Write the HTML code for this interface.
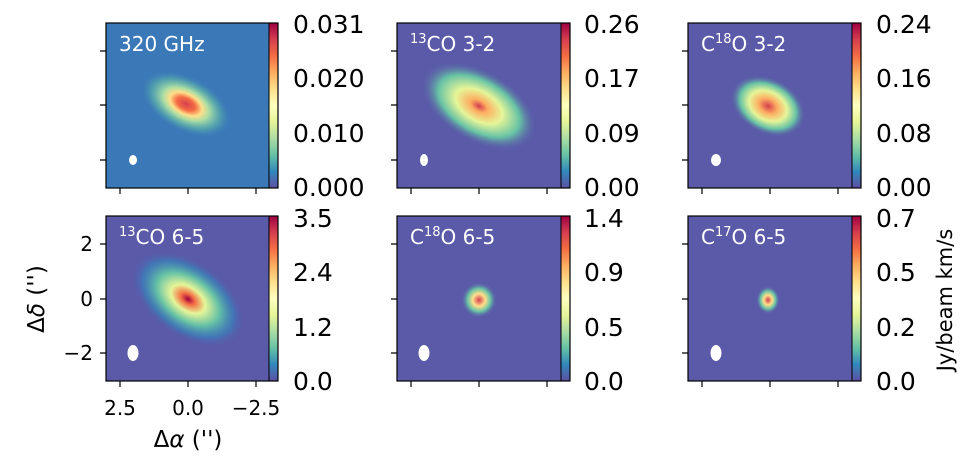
<!DOCTYPE html>
<html><head><meta charset="utf-8"><style>
body{margin:0;background:#fff;width:966px;height:465px;overflow:hidden}
text{font-family:"DejaVu Sans","Liberation Sans",sans-serif}
</style></head><body>
<svg width="966" height="465" viewBox="0 0 966 465" xmlns="http://www.w3.org/2000/svg">
<defs>
<linearGradient id="cb" x1="0" y1="1" x2="0" y2="0">
<stop offset="0" stop-color="#5e4fa2"/><stop offset="0.1" stop-color="#3288bd"/><stop offset="0.2" stop-color="#66c2a5"/><stop offset="0.3" stop-color="#abdda4"/><stop offset="0.4" stop-color="#e6f598"/><stop offset="0.5" stop-color="#ffffbf"/><stop offset="0.6" stop-color="#fee08b"/><stop offset="0.7" stop-color="#fdae61"/><stop offset="0.8" stop-color="#f46d43"/><stop offset="0.9" stop-color="#d53e4f"/><stop offset="1" stop-color="#9e0142"/>
</linearGradient>
<radialGradient id="g1"><stop offset="0" stop-color="#d53e4f"/><stop offset="0.2" stop-color="#f46d43"/><stop offset="0.35" stop-color="#fee08b"/><stop offset="0.5" stop-color="#abdda4"/><stop offset="0.75" stop-color="#66c2a5" stop-opacity="0.5"/><stop offset="1" stop-color="#3a78b8" stop-opacity="0"/></radialGradient>
<radialGradient id="g2"><stop offset="0" stop-color="#d53e4f"/><stop offset="0.15" stop-color="#fdae61"/><stop offset="0.4" stop-color="#e6f598"/><stop offset="0.7" stop-color="#66c2a5"/><stop offset="1" stop-color="#5a5aa8" stop-opacity="0"/></radialGradient>
<radialGradient id="g3"><stop offset="0" stop-color="#d53e4f"/><stop offset="0.25" stop-color="#fdae61"/><stop offset="0.5" stop-color="#e6f598"/><stop offset="0.75" stop-color="#66c2a5"/><stop offset="1" stop-color="#5a5aa8" stop-opacity="0"/></radialGradient>
<radialGradient id="g4"><stop offset="0" stop-color="#9e0142"/><stop offset="0.12" stop-color="#f46d43"/><stop offset="0.3" stop-color="#e6f598"/><stop offset="0.55" stop-color="#66c2a5"/><stop offset="0.8" stop-color="#3288bd" stop-opacity="0.6"/><stop offset="1" stop-color="#5a5aa8" stop-opacity="0"/></radialGradient>
<radialGradient id="g5"><stop offset="0" stop-color="#d53e4f"/><stop offset="0.35" stop-color="#fee08b"/><stop offset="0.65" stop-color="#66c2a5"/><stop offset="1" stop-color="#5a5aa8" stop-opacity="0"/></radialGradient>
</defs>
<g stroke="#000" stroke-width="1.2" fill="none">
<path d="M100 51h6M100 105h6M100 160h6M100 244h6M100 299h6M100 353h6M391 51h6M391 105h6M391 160h6M391 244h6M391 299h6M391 353h6M682 51h6M682 105h6M682 160h6M682 244h6M682 299h6M682 353h6
M120 188v6M188 188v6M256 188v6M411 188v6M479 188v6M547 188v6M702 188v6M770 188v6M838 188v6
M120 381v6M188 381v6M256 381v6M411 381v6M479 381v6M547 381v6M702 381v6M770 381v6M838 381v6"/>
</g>
<rect x="106" y="23" width="163" height="165" fill="#3a78b8"/>
<ellipse cx="186" cy="104" rx="50" ry="28" fill="url(#g1)" transform="rotate(28 186 104)"/>
<rect x="397" y="23" width="164" height="165" fill="#5a5aa8"/>
<ellipse cx="479" cy="106" rx="64" ry="36" fill="url(#g2)" transform="rotate(30 479 106)"/>
<rect x="688" y="23" width="164" height="165" fill="#5a5aa8"/>
<ellipse cx="768" cy="106" rx="40" ry="28" fill="url(#g3)" transform="rotate(28 768 106)"/>
<rect x="106" y="216" width="163" height="165" fill="#5a5aa8"/>
<ellipse cx="188" cy="299" rx="64" ry="38" fill="url(#g4)" transform="rotate(35 188 299)"/>
<rect x="397" y="216" width="164" height="165" fill="#5a5aa8"/>
<ellipse cx="479" cy="300" rx="18" ry="18" fill="url(#g5)"/>
<rect x="688" y="216" width="164" height="165" fill="#5a5aa8"/>
<ellipse cx="768" cy="300" rx="12" ry="14" fill="url(#g5)"/>
<g fill="#fff"><ellipse cx="133" cy="160" rx="4" ry="5"/><ellipse cx="424" cy="160" rx="4" ry="6"/><ellipse cx="716" cy="160" rx="5" ry="6"/>
<ellipse cx="133" cy="353" rx="5.5" ry="8"/><ellipse cx="424" cy="353" rx="5.5" ry="8"/><ellipse cx="716" cy="353" rx="5.5" ry="8"/></g>
<g fill="url(#cb)" stroke="#000" stroke-width="1">
<rect x="269" y="23" width="9" height="165"/><rect x="561" y="23" width="9" height="165"/><rect x="852" y="23" width="9" height="165"/>
<rect x="269" y="216" width="9" height="165"/><rect x="561" y="216" width="9" height="165"/><rect x="852" y="216" width="9" height="165"/>
</g>
<g fill="none" stroke="#000" stroke-width="1.2">
<rect x="106" y="23" width="172" height="165"/><rect x="397" y="23" width="173" height="165"/><rect x="688" y="23" width="173" height="165"/>
<rect x="106" y="216" width="172" height="165"/><rect x="397" y="216" width="173" height="165"/><rect x="688" y="216" width="173" height="165"/>
</g>
<g fill="#fff" font-size="20">
<text x="119" y="51">320 GHz</text>
<text x="410" y="51"><tspan font-size="13" dy="-8">13</tspan><tspan dy="8">CO 3-2</tspan></text>
<text x="701" y="51">C<tspan font-size="13" dy="-8">18</tspan><tspan dy="8">O 3-2</tspan></text>
<text x="119" y="244"><tspan font-size="13" dy="-8">13</tspan><tspan dy="8">CO 6-5</tspan></text>
<text x="410" y="244">C<tspan font-size="13" dy="-8">18</tspan><tspan dy="8">O 6-5</tspan></text>
<text x="701" y="244">C<tspan font-size="13" dy="-8">17</tspan><tspan dy="8">O 6-5</tspan></text>
</g>
<g fill="#000" font-size="25">
<text x="293" y="33">0.031</text><text x="293" y="87">0.020</text><text x="293" y="142">0.010</text><text x="293" y="196">0.000</text>
<text x="584" y="33">0.26</text><text x="584" y="87">0.17</text><text x="584" y="142">0.09</text><text x="584" y="196">0.00</text>
<text x="876" y="33">0.24</text><text x="876" y="87">0.16</text><text x="876" y="142">0.08</text><text x="876" y="196">0.00</text>
<text x="293" y="227">3.5</text><text x="293" y="281">2.4</text><text x="293" y="336">1.2</text><text x="293" y="390">0.0</text>
<text x="584" y="227">1.4</text><text x="584" y="281">0.9</text><text x="584" y="336">0.5</text><text x="584" y="390">0.0</text>
<text x="876" y="227">0.7</text><text x="876" y="281">0.5</text><text x="876" y="336">0.2</text><text x="876" y="390">0.0</text>
</g>
<text x="0" y="0" font-size="21" transform="translate(952 300) rotate(-90)" text-anchor="middle">Jy/beam km/s</text>
<g font-size="20" fill="#000">
<text x="93" y="251" text-anchor="end">2</text><text x="93" y="306" text-anchor="end">0</text><text x="93" y="360" text-anchor="end">−2</text>
<text x="120" y="415" text-anchor="middle">2.5</text><text x="188" y="415" text-anchor="middle">0.0</text><text x="256" y="415" text-anchor="middle">−2.5</text>
</g>
<text x="188" y="447" font-size="23" text-anchor="middle">Δ<tspan font-style="italic">α</tspan> ('')</text>
<text font-size="23" transform="translate(44 299) rotate(-90)" text-anchor="middle">Δ<tspan font-style="italic">δ</tspan> ('')</text>
</svg>
</body></html>
